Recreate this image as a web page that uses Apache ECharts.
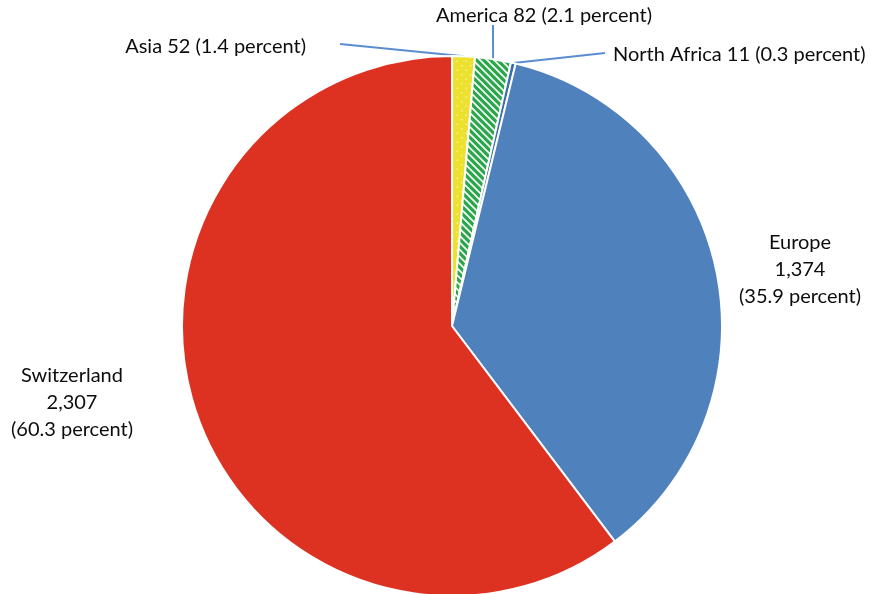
<!DOCTYPE html>
<html>
<head>
<meta charset="utf-8">
<script src="https://cdn.jsdelivr.net/npm/echarts@6/dist/echarts.min.js"></script>
<style>
html,body{margin:0;padding:0;background:#fff;}
#chart{width:875px;height:594px;}
</style>
</head>
<body>
<div id="chart"></div>
<script>
const categories = ['Asia', 'America', 'North Africa', 'Europe', 'Switzerland'];
const values = [52, 82, 11, 1374, 2307];

const FONT = 'Lato';
const CENTER = [452, 326];
const RADIUS = 270;

function makePattern(kind) {
  const c = document.createElement('canvas');
  if (kind === 'stripes') {
    c.width = 7; c.height = 7;
    const g = c.getContext('2d');
    g.fillStyle = '#2aa74b';
    g.fillRect(0, 0, 7, 7);
    g.strokeStyle = '#ffffff';
    g.lineWidth = 1.6;
    g.beginPath();
    g.moveTo(-1, -1); g.lineTo(8, 8);
    g.moveTo(-8, -1); g.lineTo(1, 8);
    g.moveTo(6, -1); g.lineTo(15, 8);
    g.stroke();
  } else {
    c.width = 9; c.height = 9;
    const g = c.getContext('2d');
    g.fillStyle = '#ece12e';
    g.fillRect(0, 0, 9, 9);
    g.fillStyle = '#f6f0a8';
    g.fillRect(2, 2, 1.5, 1.5);
    g.fillRect(6.5, 6.5, 1.5, 1.5);
  }
  return { image: c, repeat: 'repeat' };
}

const fills = [makePattern('dots'), makePattern('stripes'), '#3d6fae', '#4f81bd', '#dd3222'];

// label placement
const labelPlace = [
  { x: 306, y: 47, align: 'right', lineFrom: [340, 44] },
  { x: 544, y: 16, align: 'center', lineFrom: [493, 25] },
  { x: 613, y: 55, align: 'left', lineFrom: [605, 53] },
  { x: 800, y: 270, align: 'center', lineFrom: null },
  { x: 72, y: 403, align: 'center', lineFrom: null }
];

const fmt = n => n.toLocaleString('en-US');

const data = categories.map((name, i) => ({
  name: name,
  value: values[i],
  itemStyle: { color: fills[i] },
  labelLine: { show: labelPlace[i].lineFrom !== null }
}));

const chart = echarts.init(document.getElementById('chart'), null, { renderer: 'canvas' });
chart.setOption({
  animation: false,
  backgroundColor: '#ffffff',
  series: [{
    type: 'pie',
    center: CENTER,
    radius: RADIUS,
    startAngle: 90,
    clockwise: true,
    data: data,
    itemStyle: { borderColor: '#ffffff', borderWidth: 2 },
    label: {
      show: true,
      position: 'outside',
      fontFamily: FONT,
      fontSize: 20,
      color: '#0d0d0d',
      lineHeight: 27,
      overflow: 'none',
      width: 400,
      formatter: function (p) {
        const pct = p.percent.toFixed(1);
        if (p.dataIndex >= 3) {
          return p.name + '\n' + fmt(p.value) + '\n(' + pct + ' percent)';
        }
        return p.name + ' ' + fmt(p.value) + ' (' + pct + ' percent)';
      }
    },
    labelLine: {
      show: true,
      lineStyle: { color: '#5b8ed0', width: 2 }
    },
    labelLayout: function (params) {
      const lp = labelPlace[params.dataIndex];
      const out = { x: lp.x, y: lp.y, align: lp.align, verticalAlign: 'middle' };
      if (lp.lineFrom && params.labelLinePoints) {
        const anchor = params.labelLinePoints[0];
        out.labelLinePoints = [anchor, lp.lineFrom, lp.lineFrom];
      }
      return out;
    }
  }]
});
</script>
</body>
</html>
